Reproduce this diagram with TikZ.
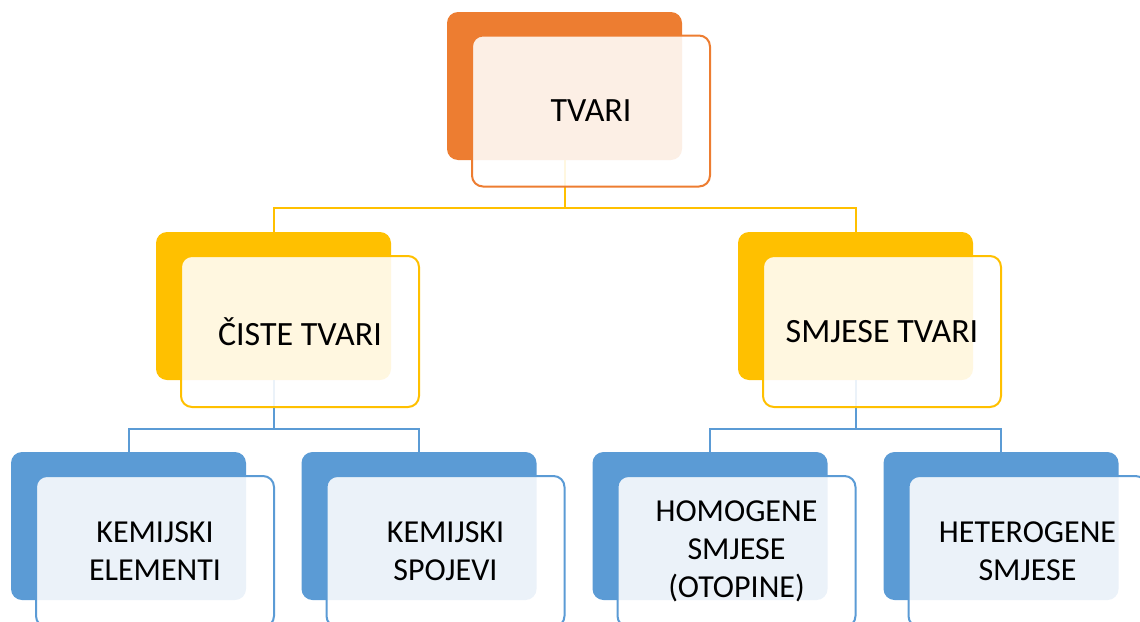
\documentclass[tikz,border=0pt]{standalone}
\usepackage{fontspec}
\setmainfont{Carlito}
\definecolor{cor}{HTML}{ED7D31}
\definecolor{cye}{HTML}{FFC000}
\definecolor{cbl}{HTML}{5B9BD5}
\tikzset{
  backbox/.style={rounded corners=11pt, minimum width=235pt, minimum height=148pt, inner sep=0pt, draw=none, fill=#1},
  frontbox/.style={rounded corners=11pt, minimum width=238pt, minimum height=151pt, inner sep=0pt, draw=#1, line width=2pt, fill=white, fill opacity=0.88, text opacity=1, align=center, text=black},
  conn/.style={draw=#1, line width=2pt},
  bigtxt/.style={font=\fontsize{34}{40}\selectfont},
  smalltxt/.style={font=\fontsize{32}{38}\selectfont},
}
\begin{document}
\begin{tikzpicture}[x=1pt,y=-1pt]
\useasboundingbox (0,0) rectangle (1140,621);
\clip (0,0) rectangle (1140,621);
% back boxes
\node[backbox=cor] (tb) at (564.5,86) {};
\node[backbox=cye] (cb) at (273.5,306) {};
\node[backbox=cye] (sb) at (855.5,306) {};
\node[backbox=cbl] (eb) at (128.5,526) {};
\node[backbox=cbl] (pb) at (419,526) {};
\node[backbox=cbl] (hob) at (710,526) {};
\node[backbox=cbl] (heb) at (1001,526) {};
% connectors
\draw[conn=cye] (tb.south) -- (tb.south |- 0,208) -| (cb.north);
\draw[conn=cye] (tb.south |- 0,208) -| (sb.north);
\draw[conn=cbl] (cb.south) -- (cb.south |- 0,429) -| (eb.north);
\draw[conn=cbl] (cb.south |- 0,429) -| (pb.north);
\draw[conn=cbl] (sb.south) -- (sb.south |- 0,429) -| (hob.north);
\draw[conn=cbl] (sb.south |- 0,429) -| (heb.north);
% front boxes
\node[frontbox=cor, bigtxt] (tf) at (591,111) {TVARI};
\node[frontbox=cye, bigtxt] (cf) at (300,331.5) {ČISTE TVARI};
\node[frontbox=cye, bigtxt] (sf) at (882,331.5) {SMJESE TVARI};
\node[frontbox=cbl, smalltxt] (ef) at (155,551.5) {KEMIJSKI\\ELEMENTI};
\node[frontbox=cbl, smalltxt] (pf) at (445.5,551.5) {KEMIJSKI\\SPOJEVI};
\node[frontbox=cbl, smalltxt] (hof) at (736.5,551.5) {HOMOGENE\\SMJESE\\(OTOPINE)};
\node[frontbox=cbl, smalltxt] (hef) at (1027.5,551.5) {HETEROGENE\\SMJESE};
\end{tikzpicture}
\end{document}
